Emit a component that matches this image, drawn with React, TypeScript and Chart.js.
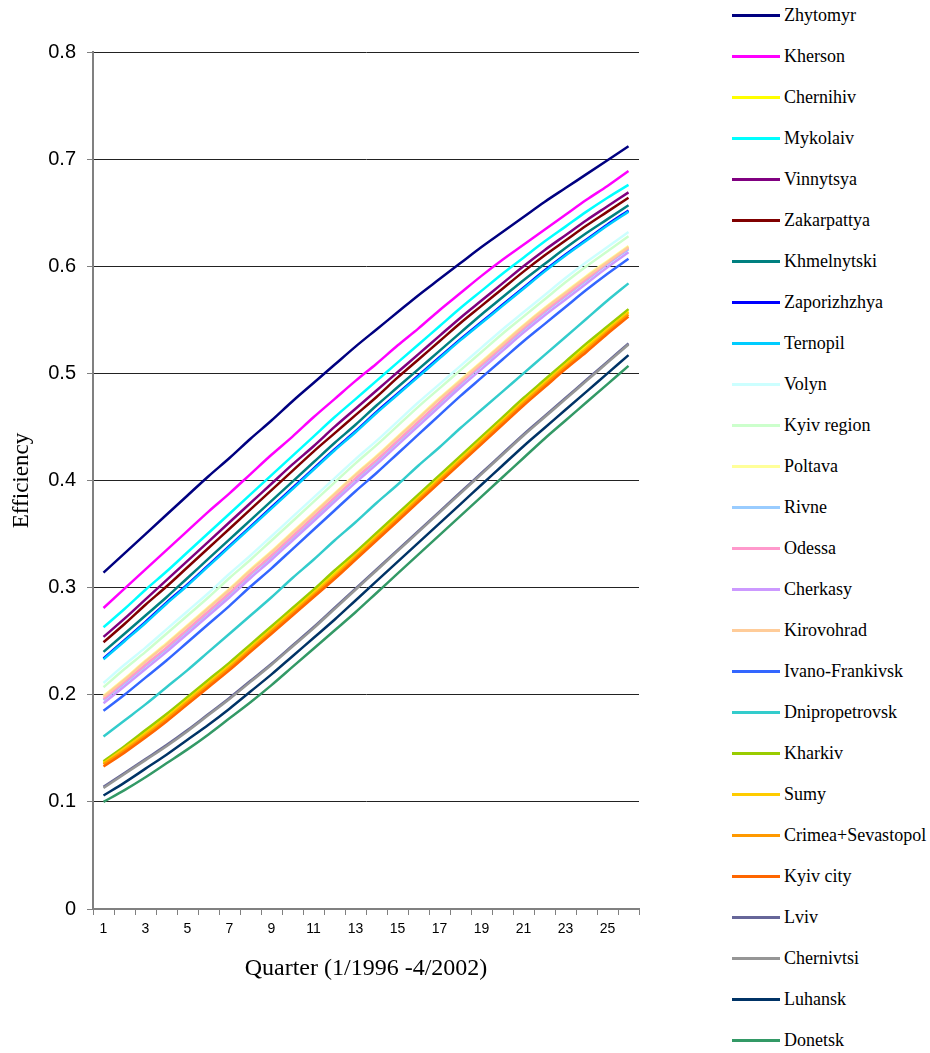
import React, { useEffect, useRef } from "react";
import { Chart, registerables } from "chart.js";

Chart.register(...registerables);

const QUARTERS = ["1","2","3","4","5","6","7","8","9","10","11","12","13","14","15","16","17","18","19","20","21","22","23","24","25","26"];

const Y_MIN = 0;
const Y_MAX = 0.8;
const Y_STEP = 0.1;

const ZHYTOMYR = [0.314,0.332,0.350,0.368,0.386,0.404,0.421,0.439,0.456,0.474,0.491,0.508,0.525,0.541,0.557,0.573,0.588,0.603,0.618,0.632,0.646,0.660,0.673,0.686,0.699,0.712];
const KHERSON = [0.281,0.299,0.317,0.335,0.353,0.371,0.388,0.406,0.424,0.441,0.459,0.476,0.493,0.509,0.526,0.542,0.559,0.575,0.591,0.606,0.620,0.634,0.648,0.662,0.675,0.689];
const CHERNIHIV = [0.137,0.151,0.165,0.180,0.196,0.212,0.228,0.245,0.262,0.279,0.296,0.314,0.331,0.349,0.367,0.385,0.403,0.421,0.439,0.457,0.475,0.492,0.509,0.526,0.542,0.558];
const MYKOLAIV = [0.263,0.280,0.298,0.315,0.333,0.351,0.369,0.387,0.405,0.423,0.441,0.459,0.476,0.493,0.510,0.527,0.544,0.561,0.577,0.593,0.608,0.623,0.637,0.651,0.664,0.676];
const VINNYTSYA = [0.254,0.271,0.289,0.307,0.325,0.343,0.361,0.379,0.397,0.415,0.432,0.450,0.467,0.484,0.501,0.518,0.535,0.552,0.568,0.584,0.600,0.615,0.629,0.643,0.656,0.669];
const ZAKARPATTYA = [0.249,0.266,0.284,0.301,0.319,0.337,0.355,0.373,0.391,0.409,0.427,0.444,0.461,0.478,0.496,0.513,0.530,0.547,0.563,0.579,0.595,0.610,0.624,0.638,0.651,0.664];
const KHMELNYTSKI = [0.240,0.257,0.274,0.291,0.309,0.327,0.345,0.363,0.381,0.399,0.417,0.435,0.452,0.470,0.487,0.504,0.521,0.538,0.555,0.571,0.587,0.602,0.617,0.631,0.644,0.657];
const ZAPORIZHZHYA = [0.234,0.251,0.268,0.286,0.303,0.321,0.339,0.357,0.375,0.393,0.411,0.429,0.446,0.464,0.481,0.498,0.515,0.532,0.548,0.564,0.580,0.596,0.611,0.625,0.639,0.652];
const TERNOPIL = [0.233,0.250,0.267,0.285,0.302,0.320,0.338,0.356,0.374,0.392,0.410,0.428,0.445,0.463,0.480,0.497,0.514,0.531,0.547,0.563,0.579,0.595,0.610,0.624,0.638,0.651];
const VOLYN = [0.211,0.228,0.244,0.261,0.278,0.295,0.313,0.330,0.348,0.366,0.384,0.402,0.420,0.437,0.455,0.473,0.490,0.507,0.524,0.541,0.557,0.573,0.589,0.604,0.618,0.632];
const KYIV_REGION = [0.207,0.224,0.240,0.257,0.274,0.291,0.309,0.326,0.344,0.362,0.380,0.398,0.416,0.433,0.451,0.469,0.486,0.503,0.520,0.537,0.553,0.569,0.585,0.600,0.614,0.628];
const POLTAVA = [0.199,0.215,0.232,0.248,0.265,0.282,0.299,0.317,0.334,0.352,0.370,0.388,0.406,0.423,0.441,0.459,0.477,0.494,0.511,0.528,0.545,0.561,0.576,0.591,0.605,0.619];
const RIVNE = [0.195,0.211,0.227,0.243,0.260,0.277,0.294,0.312,0.329,0.347,0.365,0.383,0.401,0.418,0.436,0.454,0.472,0.490,0.507,0.524,0.541,0.557,0.572,0.587,0.602,0.616];
const ODESSA = [0.196,0.212,0.228,0.244,0.261,0.278,0.295,0.313,0.330,0.348,0.366,0.384,0.402,0.419,0.437,0.455,0.473,0.491,0.508,0.525,0.542,0.558,0.573,0.588,0.603,0.617];
const CHERKASY = [0.192,0.208,0.224,0.240,0.257,0.274,0.291,0.309,0.326,0.344,0.362,0.380,0.398,0.415,0.433,0.451,0.469,0.487,0.504,0.521,0.538,0.554,0.569,0.584,0.599,0.613];
const KIROVOHRAD = [0.198,0.214,0.231,0.247,0.264,0.281,0.298,0.316,0.333,0.351,0.369,0.387,0.405,0.422,0.440,0.458,0.476,0.493,0.510,0.527,0.544,0.560,0.575,0.590,0.604,0.618];
const IVANO_FRANKIVSK = [0.185,0.200,0.216,0.232,0.249,0.266,0.283,0.301,0.318,0.336,0.354,0.372,0.390,0.407,0.425,0.443,0.461,0.479,0.496,0.513,0.530,0.546,0.562,0.578,0.593,0.607];
const DNIPROPETROVSK = [0.161,0.176,0.191,0.207,0.223,0.240,0.257,0.274,0.291,0.309,0.326,0.344,0.361,0.379,0.396,0.414,0.431,0.449,0.466,0.483,0.500,0.517,0.534,0.551,0.568,0.584];
const KHARKIV = [0.138,0.152,0.167,0.182,0.198,0.214,0.230,0.247,0.264,0.281,0.298,0.316,0.333,0.351,0.369,0.387,0.405,0.423,0.441,0.459,0.477,0.494,0.511,0.528,0.544,0.560];
const SUMY = [0.136,0.150,0.164,0.179,0.195,0.211,0.227,0.244,0.261,0.278,0.295,0.312,0.330,0.348,0.366,0.384,0.402,0.420,0.438,0.456,0.474,0.491,0.508,0.524,0.541,0.557];
const CRIMEA_SEVASTOPOL = [0.135,0.148,0.162,0.177,0.193,0.209,0.225,0.242,0.259,0.276,0.293,0.310,0.328,0.346,0.364,0.382,0.400,0.418,0.436,0.454,0.472,0.489,0.506,0.522,0.539,0.555];
const KYIV_CITY = [0.133,0.146,0.160,0.175,0.191,0.207,0.223,0.240,0.257,0.274,0.291,0.308,0.326,0.344,0.362,0.380,0.398,0.416,0.434,0.452,0.470,0.487,0.504,0.520,0.537,0.553];
const LVIV = [0.114,0.127,0.140,0.153,0.167,0.182,0.197,0.213,0.229,0.246,0.263,0.281,0.299,0.317,0.335,0.353,0.371,0.389,0.407,0.425,0.443,0.460,0.477,0.494,0.511,0.528];
const CHERNIVTSI = [0.113,0.126,0.139,0.152,0.166,0.181,0.196,0.212,0.228,0.245,0.262,0.280,0.298,0.316,0.334,0.352,0.370,0.388,0.406,0.424,0.442,0.459,0.476,0.493,0.510,0.527];
const LUHANSK = [0.106,0.118,0.131,0.144,0.158,0.172,0.187,0.203,0.219,0.236,0.253,0.270,0.288,0.306,0.324,0.342,0.360,0.378,0.396,0.414,0.432,0.449,0.466,0.483,0.500,0.517];
const DONETSK = [0.100,0.111,0.123,0.136,0.149,0.163,0.178,0.193,0.209,0.226,0.243,0.260,0.277,0.295,0.313,0.331,0.349,0.367,0.385,0.403,0.421,0.439,0.456,0.473,0.490,0.507];

const SERIES_NAMES = ["Zhytomyr","Kherson","Chernihiv","Mykolaiv","Vinnytsya","Zakarpattya","Khmelnytski","Zaporizhzhya","Ternopil","Volyn","Kyiv region","Poltava","Rivne","Odessa","Cherkasy","Kirovohrad","Ivano-Frankivsk","Dnipropetrovsk","Kharkiv","Sumy","Crimea+Sevastopol","Kyiv city","Lviv","Chernivtsi","Luhansk","Donetsk"];
const SERIES_VALUES = [ZHYTOMYR,KHERSON,CHERNIHIV,MYKOLAIV,VINNYTSYA,ZAKARPATTYA,KHMELNYTSKI,ZAPORIZHZHYA,TERNOPIL,VOLYN,KYIV_REGION,POLTAVA,RIVNE,ODESSA,CHERKASY,KIROVOHRAD,IVANO_FRANKIVSK,DNIPROPETROVSK,KHARKIV,SUMY,CRIMEA_SEVASTOPOL,KYIV_CITY,LVIV,CHERNIVTSI,LUHANSK,DONETSK];
const SERIES_COLORS = ["#000080","#FF00FF","#FFFF00","#00FFFF","#800080","#800000","#008080","#0000FF","#00CCFF","#CCFFFF","#CCFFCC","#FFFF99","#99CCFF","#FF99CC","#CC99FF","#FFCC99","#3366FF","#33CCCC","#99CC00","#FFCC00","#FF9900","#FF6600","#666699","#969696","#003366","#339966"];

const X_TITLE = "Quarter (1/1996 -4/2002)";
const Y_TITLE = "Efficiency";

export default function App() {
  const canvasRef = useRef<HTMLCanvasElement | null>(null);

  useEffect(() => {
    if (!canvasRef.current) return;
    const n = SERIES_NAMES.length;
    const chart = new Chart(canvasRef.current, {
      type: "line",
      data: {
        labels: QUARTERS,
        datasets: SERIES_NAMES.map((name, i) => ({
          label: name,
          data: SERIES_VALUES[i],
          borderColor: SERIES_COLORS[i],
          backgroundColor: SERIES_COLORS[i],
          borderWidth: 2.5,
          pointRadius: 0,
          pointHoverRadius: 0,
          fill: false,
          tension: 0.4,
          cubicInterpolationMode: "monotone",
          order: n - i,
        })),
      },
      options: {
        responsive: false,
        animation: false,
        devicePixelRatio: 1,
        events: [],
        layout: { padding: { left: 0, top: 52, right: 21, bottom: 70 } },
        plugins: {
          legend: { display: false },
          tooltip: { enabled: false },
          title: { display: false },
        },
        scales: {
          x: {
            type: "category",
            offset: true,
            grid: {
              display: true,
              drawOnChartArea: false,
              drawTicks: true,
              tickLength: 6,
              offset: true,
              color: "#808080",
              lineWidth: 1,
            },
            border: { display: true, color: "#808080", width: 2 },
            ticks: {
              autoSkip: false,
              maxRotation: 0,
              padding: 6,
              color: "#000",
              font: { family: "'Liberation Sans', Arial, sans-serif", size: 14 },
              callback: (_v: any, idx: number) => (idx % 2 === 0 ? QUARTERS[idx] : ""),
            },
            title: {
              display: true,
              text: X_TITLE,
              color: "#000",
              font: { family: "'Liberation Serif', 'Times New Roman', serif", size: 24 },
              padding: { top: 0, bottom: 0 },
            },
            afterFit: (scale: any) => {
              scale.height = 74;
            },
          },
          y: {
            min: Y_MIN,
            max: Y_MAX,
            grid: {
              color: "#222",
              lineWidth: 1,
              drawTicks: true,
              tickLength: 6,
              tickColor: "#808080",
            },
            border: { display: true, color: "#808080", width: 2 },
            ticks: {
              stepSize: Y_STEP,
              padding: 11,
              color: "#000",
              font: { family: "'Liberation Sans', Arial, sans-serif", size: 20 },
              callback: (v: any) => String(Math.round(Number(v) * 10) / 10),
            },
            title: {
              display: true,
              text: Y_TITLE,
              color: "#000",
              font: { family: "'Liberation Serif', 'Times New Roman', serif", size: 23 },
              padding: { top: 8, bottom: 0 },
            },
            afterFit: (scale: any) => {
              scale.width = 93;
            },
          },
        },
      },
    });
    return () => chart.destroy();
  }, []);

  return (
    <div style={{ position: "absolute", left: 0, top: 0, width: 930, height: 1053, background: "#fff", overflow: "hidden" }}>
      <canvas ref={canvasRef} width={660} height={1053} style={{ position: "absolute", left: 0, top: 0, width: 660, height: 1053 }} />
      {SERIES_NAMES.map((name, i) => (
        <div
          key={name}
          style={{
            position: "absolute",
            left: 732,
            top: 15 + 41 * i - 12,
            height: 24,
            display: "flex",
            alignItems: "center",
            whiteSpace: "nowrap",
            fontFamily: "'Liberation Serif', 'Times New Roman', serif",
            fontSize: 18,
            color: "#000",
          }}
        >
          <span style={{ display: "inline-block", width: 48, height: 3, background: SERIES_COLORS[i], marginRight: 4 }} />
          <span>{name}</span>
        </div>
      ))}
    </div>
  );
}
